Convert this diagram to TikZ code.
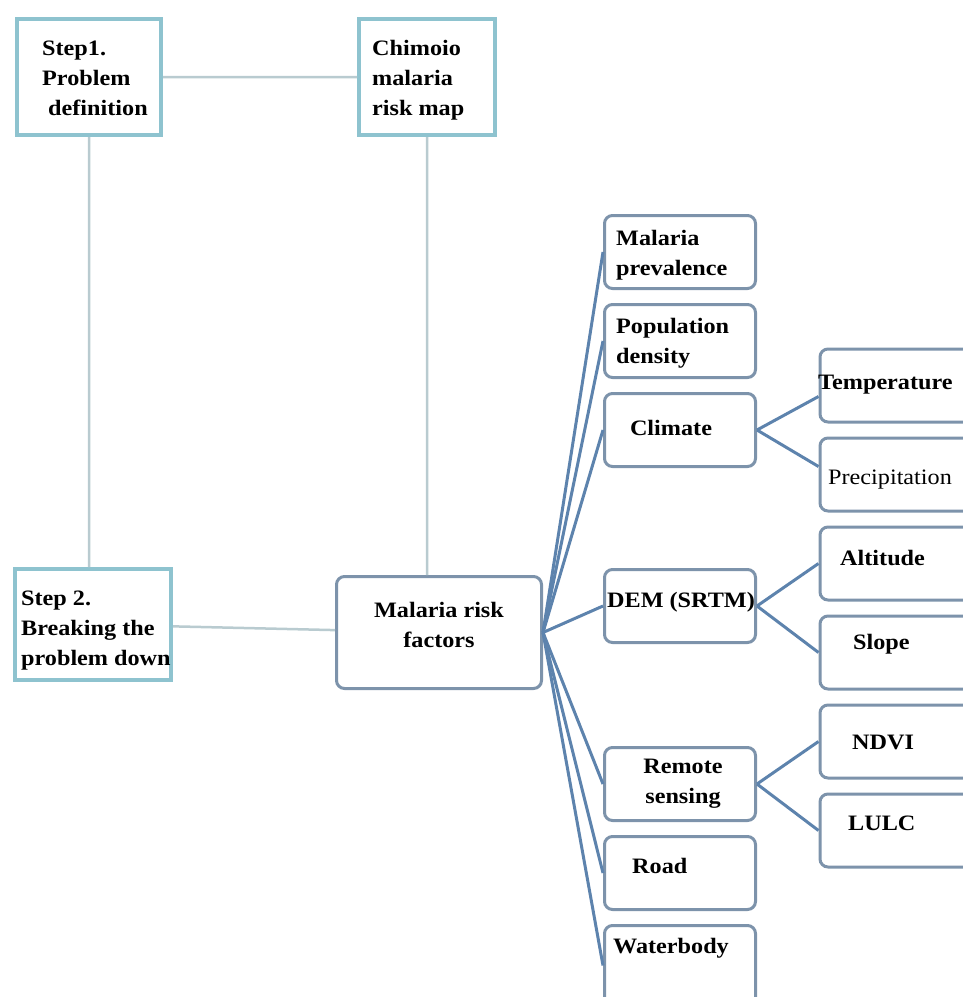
\documentclass[tikz,border=0pt]{standalone}
\usepackage{fontspec}
\setmainfont{Liberation Serif}[FakeStretch=1.1]
\usepackage{xcolor}
\usetikzlibrary{positioning}

\definecolor{stepline}{HTML}{8EC3CF}
\definecolor{boxline}{HTML}{7D93AB}
\definecolor{fanline}{HTML}{5D83AD}
\definecolor{linkline}{HTML}{B9CBD0}

\tikzset{
  stepbox/.style={draw=stepline, line width=4pt, fill=white},
  factbox/.style={draw=boxline, line width=3pt, rounded corners=8pt, fill=white},
  colbox/.style={factbox, minimum width=151pt, minimum height=73pt},
  subbox/.style={factbox, minimum width=180pt, minimum height=73pt},
  txt/.style={inner sep=0pt, align=left},
  link/.style={draw=linkline, line width=2.5pt},
  fan/.style={draw=fanline, line width=3pt}
}

\begin{document}
\begin{tikzpicture}
      [ x=1pt, y=-1pt,
        font=\fontsize{22}{30}\selectfont\bfseries,
        node distance=13pt
      ]
      \clip (0,0) rectangle (963,997);

      % step boxes
      \node[stepbox, minimum width=144pt, minimum height=116pt] (step1)   at (89,77)    {};
      \node[stepbox, minimum width=136pt, minimum height=116pt] (mapbox)  at (427,77)   {};
      \node[stepbox, minimum width=156pt, minimum height=111pt] (step2)   at (93,624.5) {};
      \node[factbox, minimum width=205pt, minimum height=112pt] (factors) at (439,632.5) {};

      % risk factors
      \node[colbox] (prevbox)                     at (680,252) {};
      \node[colbox] (popbox)    [below=of prevbox]             {};
      \node[colbox] (climbox)   [below=of popbox]              {};
      \node[colbox] (dembox)                      at (680,606) {};
      \node[colbox] (remotebox)                   at (680,784) {};
      \node[colbox] (roadbox)   [below=of remotebox]           {};
      \node[colbox, minimum height=100pt] (waterbox) [below=of roadbox] {};

      % sub factors
      \node[subbox] (tempbox)                       at (910,385.5) {};
      \node[subbox] (precipbox) [below=of tempbox]                 {};
      \node[subbox] (altbox)    [below=of precipbox]               {};
      \node[subbox] (slopebox)  [below=of altbox]                  {};
      \node[subbox] (ndvibox)   [below=of slopebox]                {};
      \node[subbox] (lulcbox)   [below=of ndvibox]                 {};

      % texts
      \node[txt, anchor=west] (tstep1)  at (42,78)   {Step1.\\Problem\\\hspace*{6pt}definition};
      \node[txt, anchor=west] (tmap)    at (372,80)  {Chimoio\\malaria\\risk map};
      \node[txt, anchor=west] (tstep2)  at (21,631)  {Step 2.\\Breaking the\\problem down};
      \node[txt, align=center] (tfact)  at (439,625) {Malaria risk\\factors};
      \node[txt, anchor=west] (tprev)   at (616,255) {Malaria\\prevalence};
      \node[txt, anchor=west] (tpop)    at (616,343) {Population\\density};
      \node[txt]              (tclim)   at (671,428) {Climate};
      \node[txt]              (tdem)    at (681,602) {DEM (SRTM)};
      \node[txt, align=center] (tremote) at (683,784) {Remote\\sensing};
      \node[txt, anchor=west] (troad)   at (632,866) {Road};
      \node[txt, anchor=west] (twater)  at (613,948) {Waterbody};
      \node[txt, anchor=west] (ttemp)   at (818,385) {Temperature};
      \node[txt, anchor=west, font=\fontsize{22}{30}\selectfont] (tprecip) at (828,480) {Precipitation};
      \node[txt, anchor=west] (talt)    at (840,558) {Altitude};
      \node[txt, anchor=west] (tslope)  at (853,644) {Slope};
      \node[txt, anchor=west] (tndvi)   at (852,742) {NDVI};
      \node[txt, anchor=west] (tlulc)   at (848,823) {LULC};

      % links
      \path[link] (step1) -- (mapbox)
                  (step1.south) -- (step1.south |- step2.north)
                  (mapbox.south) -- (mapbox.south |- factors.north)
                  (step2) -- (factors);

      \foreach \b in {prevbox,popbox,climbox,dembox,remotebox,roadbox}
        \path[fan] (factors.east) -- (\b.west);
      \path[fan] (factors.east) -- ([yshift=10pt]waterbox.west);

      \path[fan] (climbox.east)   -- ([yshift=-11pt]tempbox.west)
                 (climbox.east)   -- ([yshift=8pt]precipbox.west)
                 (dembox.east)    -- (altbox.west)
                 (dembox.east)    -- (slopebox.west)
                 (remotebox.east) -- (ndvibox.west)
                 (remotebox.east) -- (lulcbox.west);
    \end{tikzpicture}
\end{document}
